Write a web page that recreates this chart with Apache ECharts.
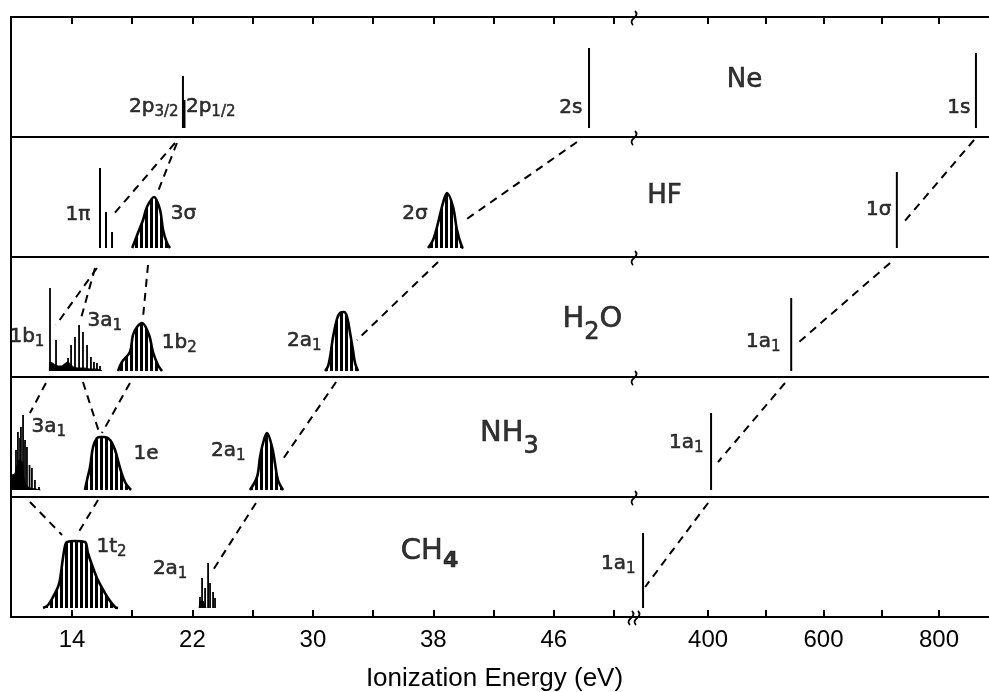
<!DOCTYPE html>
<html><head><meta charset="utf-8">
<script src="https://cdn.jsdelivr.net/npm/echarts@6/dist/echarts.min.js"></script>
<style>html,body{margin:0;padding:0;background:#fff}#c{width:989px;height:692px}</style>
</head><body><div id="c"></div>
<script>
// ---------------- DATA ----------------
const molecules = ['Ne', 'HF', 'H2O', 'NH3', 'CH4'];
const valenceTicks = [14, 18, 22, 26, 30, 34, 38, 42, 46, 50];
const valenceTickLabels = [14, 22, 30, 38, 46];
const coreTicks = [400, 500, 600, 700, 800];
const coreTickLabels = [400, 600, 800];
const axisTitle = 'Ionization Energy (eV)';

// sharp lines [eV, relative intensity]
const neValenceLines = [[21.37, 52], [21.47, 28], [48.34, 80]];
const neCoreLines = [[864, 75]];
const hfValenceLines = [[15.86, 80], [16.26, 36], [16.66, 16]];
const hfCoreLines = [[727, 76]];
const h2oValenceLines = [[12.54, 83], [12.94, 31], [13.74, 13], [13.94, 26], [14.2, 34], [14.47, 46], [14.73, 39], [15.0, 26], [15.26, 14], [15.46, 9], [15.66, 8], [15.86, 5]];
const h2oCoreLines = [[544, 73]];
const nh3ValenceLines = [[10.28, 40], [10.41, 58], [10.55, 52], [10.61, 63], [10.75, 75], [10.88, 50], [11.01, 43], [11.18, 25], [11.34, 22], [11.54, 10], [11.81, 3]];
const nh3CoreLines = [[405.2, 77]];
const ch4ValenceLines = [[22.5, 11], [22.64, 30], [22.84, 20], [23.04, 45], [23.17, 25], [23.37, 16], [23.5, 10]];
const ch4CoreLines = [[287.4, 75]];

// broad bands [eV, relative intensity]
const hf3sigmaBand = [[18.0, 0], [18.38, 15], [18.72, 28], [18.98, 41], [19.45, 51], [19.85, 38], [20.05, 18], [20.31, 5], [20.51, 0]];
const hf2sigmaBand = [[37.65, 0], [37.98, 8], [38.31, 25], [38.64, 45], [38.91, 55], [39.31, 41], [39.57, 18], [39.9, 1], [40.0, 0]];
const h2o1b1Continuum = [[12.5, 0], [12.52, 9], [12.7, 8], [12.9, 6], [13.1, 5], [13.3, 5], [13.5, 7], [13.7, 9], [13.9, 7], [14.1, 4], [14.4, 3], [14.8, 3], [15.2, 2], [15.6, 2], [15.9, 1], [16.0, 0]];
const h2o1b2Band = [[17.06, 0], [17.32, 9], [17.85, 19], [18.05, 36], [18.32, 44], [18.65, 48], [19.12, 36], [19.38, 19], [19.71, 6], [19.98, 0]];
const h2o2a1Band = [[30.81, 0], [31.01, 5], [31.14, 14], [31.34, 34], [31.6, 52], [31.8, 58], [32.07, 59], [32.27, 54], [32.47, 38], [32.67, 20], [32.8, 8], [33.0, 0]];
const nh3Continuum = [[9.96, 15], [10.2, 16], [10.3, 22], [10.5, 30], [10.7, 28], [10.8, 12], [10.95, 5], [11.2, 2], [11.6, 1], [11.9, 0]];
const nh31eBand = [[14.86, 0], [15.0, 10], [15.2, 23], [15.4, 43], [15.66, 52], [15.86, 53], [16.13, 53], [16.53, 50], [16.86, 40], [17.19, 22], [17.52, 8], [17.92, 0]];
const nh32a1Band = [[25.82, 0], [26.29, 13], [26.49, 33], [26.69, 47], [26.95, 57], [27.29, 43], [27.48, 27], [27.68, 10], [28.02, 0]];
const ch41t2Band = [[12.08, 0], [12.41, 3], [12.74, 11], [13.07, 21], [13.2, 28], [13.4, 50], [13.55, 63], [13.67, 66], [14.2, 67], [14.86, 66], [15.06, 55], [15.33, 43], [15.66, 30], [16.0, 20], [16.39, 10], [16.86, 1], [17.06, 0]];
const ch42a1Continuum = [[22.45, 0], [22.5, 6], [22.7, 7], [22.8, 4], [22.9, 0]];

// correlation (dashed) lines drawn inside the lower panel: [[eV top, level], [eV end, level]]
const hfValenceLinks = [[[20.84, 105], [16.72, 33]], [[20.97, 105], [19.62, 53]], [[47.54, 106], [39.94, 26]]];
const hfCoreLinks = [[[860.6, 108], [737.7, 25]]];
const h2oValenceLinks = [[[15.66, 103], [12.94, 46]], [[15.53, 103], [14.53, 49]], [[19.05, 106], [18.72, 54]], [[38.31, 109], [32.93, 31]]];
const h2oCoreLinks = [[[715.2, 108], [557.6, 29]]];
const nh3ValenceLinks = [[[12.27, 107], [11.21, 77]], [[14.73, 108], [15.86, 55]], [[17.85, 107], [15.99, 57]], [[31.54, 108], [27.88, 28]]];
const nh3CoreLinks = [[[533.3, 107], [417.3, 28]]];
const ch4ValenceLinks = [[[11.21, 106], [13.34, 73]], [[15.73, 108], [14.33, 73]], [[26.22, 105], [23.37, 38]]];
const ch4CoreLinks = [[[400, 105], [291, 21]]];

// orbital labels: [panel, scale ('val'|'core'), eV, level, text, side of anchor]
const orbitalLabels = [
  [0, 'val', 21.11, 21, '2p{s|3/2}', 'R'], [0, 'val', 21.6, 21, '2p{s|1/2}', 'L'],
  [0, 'val', 47.94, 20, '2s', 'R'], [0, 'core', 855.4, 20, '1s', 'R'],
  [1, 'val', 15.25, 33, '1π', 'R'], [1, 'val', 20.6, 34, '3σ', 'L'],
  [1, 'val', 37.65, 34, '2σ', 'R'], [1, 'core', 718.6, 38, '1σ', 'R'],
  [2, 'val', 12.2, 34, '1b{s|1}', 'R'], [2, 'val', 15.06, 50, '3a{s|1}', 'L'],
  [2, 'val', 20.0, 28, '1b{s|2}', 'L'], [2, 'val', 30.6, 30, '2a{s|1}', 'R'],
  [2, 'core', 526.4, 29, '1a{s|1}', 'R'],
  [3, 'val', 11.34, 63, '3a{s|1}', 'L'], [3, 'val', 18.12, 36, '1e', 'L'],
  [3, 'val', 25.56, 39, '2a{s|1}', 'R'], [3, 'core', 393, 47, '1a{s|1}', 'R'],
  [4, 'val', 15.66, 61, '1t{s|2}', 'L'], [4, 'val', 21.7, 39, '2a{s|1}', 'R'],
  [4, 'core', 275.3, 44, '1a{s|1}', 'R']
];
// molecule names: [panel, scale, eV, level, text]
const moleculeLabels = [
  [0, 'core', 464, 47, 'Ne'], [1, 'core', 325.5, 51, 'HF'],
  [2, 'val', 48.6, 51, 'H{m|2}O'], [3, 'val', 43.09, 56, 'NH{m|3}'], [4, 'val', 37.78, 56, 'CH{b|4}']
];

// ---------------- BUILD ----------------
const valLines = [neValenceLines, hfValenceLines, h2oValenceLines, nh3ValenceLines, ch4ValenceLines];
const coreLines = [neCoreLines, hfCoreLines, h2oCoreLines, nh3CoreLines, ch4CoreLines];
const bands = [[], [hf3sigmaBand, hf2sigmaBand], [h2o1b2Band, h2o2a1Band], [nh31eBand, nh32a1Band], [ch41t2Band]];
const fills = [[], [], [h2o1b1Continuum], [nh3Continuum], [ch42a1Continuum]];
const valLinks = [[], hfValenceLinks, h2oValenceLinks, nh3ValenceLinks, ch4ValenceLinks];
const coreLinks = [[], hfCoreLinks, h2oCoreLinks, nh3CoreLinks, ch4CoreLinks];

const pc = document.createElement('canvas');
pc.width = 5; pc.height = 4;
const pctx = pc.getContext('2d');
pctx.fillStyle = '#fff'; pctx.fillRect(0, 0, 5, 4);
pctx.fillStyle = '#000'; pctx.fillRect(0, 0, 3, 4);
const hatch = { image: pc, repeat: 'repeat' };

const baseOff = [9, 9, 6, 7, 9];
const VAL = [9.95, 51.26], CORE = [270, 886.6];
const grids = [], xAxes = [], yAxes = [], series = [];
const FONT = 'DejaVu Sans';

for (let i = 0; i < 5; i++) {
  for (let s = 0; s < 2; s++) {
    const g = i * 2 + s;
    const bottom = i === 4;
    grids.push({ left: s ? 633 : 11, top: 17 + 120 * i, width: s ? 356 : 622, height: 120 });
    xAxes.push({
      type: 'value', gridIndex: g, position: 'bottom', min: s ? CORE[0] : VAL[0], max: s ? CORE[1] : VAL[1],
      axisLine: { show: true, onZero: false, lineStyle: { color: '#000', width: 2 } },
      axisTick: { show: bottom, inside: true, length: 7, lineStyle: { color: '#000', width: 2 }, customValues: s ? coreTicks : valenceTicks },
      axisLabel: { show: bottom, customValues: s ? coreTickLabels : valenceTickLabels, color: '#000', fontSize: 24, fontFamily: 'Liberation Sans', margin: 11 },
      splitLine: { show: false }
    });
    yAxes.push({
      type: 'value', gridIndex: g, min: -baseOff[i], max: 120 - baseOff[i], show: s === 0,
      axisLine: { show: true, onZero: false, lineStyle: { color: '#000', width: 2 } },
      axisTick: { show: false }, axisLabel: { show: false }, splitLine: { show: false }
    });
  }
}
for (let s = 0; s < 2; s++) {
  xAxes.push({
    type: 'value', gridIndex: s, position: 'top', min: s ? CORE[0] : VAL[0], max: s ? CORE[1] : VAL[1],
    axisLine: { show: true, onZero: false, lineStyle: { color: '#000', width: 2 } },
    axisTick: { show: true, inside: true, length: 7, lineStyle: { color: '#000', width: 2 }, customValues: s ? coreTicks : valenceTicks },
    axisLabel: { show: false }, splitLine: { show: false }
  });
}

function stickSeries(g, data, w) {
  return {
    type: 'custom', xAxisIndex: g, yAxisIndex: g, data: data, silent: true, clip: false,
    renderItem: function (p, api) {
      const a = api.coord([api.value(0), 0]);
      const b = api.coord([api.value(0), api.value(1)]);
      return { type: 'line', shape: { x1: a[0], y1: a[1], x2: b[0], y2: b[1] }, style: { stroke: '#000', lineWidth: w } };
    }
  };
}

for (let i = 0; i < 5; i++) {
  const gv = i * 2, gc = i * 2 + 1;
  fills[i].forEach(d => series.push({
    type: 'line', xAxisIndex: gv, yAxisIndex: gv, data: d, symbol: 'none', silent: true, smooth: 0.2,
    lineStyle: { color: '#000', width: 1 }, areaStyle: { color: '#000', opacity: 1 }
  }));
  bands[i].forEach(d => series.push({
    type: 'line', xAxisIndex: gv, yAxisIndex: gv, data: d, symbol: 'none', silent: true, smooth: 0.35,
    lineStyle: { color: '#000', width: 2.6 }, areaStyle: { color: hatch, opacity: 1 }
  }));
  series.push(stickSeries(gv, valLines[i], i >= 2 ? 1.8 : 2));
  series.push(stickSeries(gc, coreLines[i], 2));
  valLinks[i].forEach(d => series.push({
    type: 'line', xAxisIndex: gv, yAxisIndex: gv, data: d, symbol: 'none', silent: true,
    lineStyle: { color: '#000', width: 2, type: [8, 6] }
  }));
  coreLinks[i].forEach(d => series.push({
    type: 'line', xAxisIndex: gc, yAxisIndex: gc, data: d, symbol: 'none', silent: true,
    lineStyle: { color: '#000', width: 2, type: [8, 6] }
  }));
}

const richSmall = {
  s: { fontSize: 15, fontFamily: FONT, color: '#000', padding: [12, 0, 0, 0], textBorderColor: '#000', textBorderWidth: 0.5 }
};
orbitalLabels.forEach(l => {
  const g = l[0] * 2 + (l[1] === 'core' ? 1 : 0);
  series.push({
    type: 'scatter', xAxisIndex: g, yAxisIndex: g, symbolSize: 1, silent: true,
    itemStyle: { color: 'rgba(0,0,0,0)' },
    data: [{ value: [l[2], l[3]] }],
    label: {
      show: true, position: [0, 0], formatter: l[4], align: l[5] === 'R' ? 'right' : (l[5] === 'L' ? 'left' : 'center'),
      verticalAlign: 'middle', fontSize: 20, fontFamily: FONT, color: '#000', textBorderColor: '#000', textBorderWidth: 0.6, rich: richSmall
    }
  });
});
moleculeLabels.forEach(l => {
  const g = l[0] * 2 + (l[1] === 'core' ? 1 : 0);
  series.push({
    type: 'scatter', xAxisIndex: g, yAxisIndex: g, symbolSize: 1, silent: true,
    itemStyle: { color: 'rgba(0,0,0,0)' },
    data: [{ value: [l[2], l[3]] }],
    label: {
      show: true, position: [0, 0], formatter: l[4], align: 'center', verticalAlign: 'middle',
      fontSize: l[0] < 2 ? 26 : 29, fontFamily: FONT, color: '#000', textBorderColor: '#000', textBorderWidth: 0.6,
      rich: {
        m: { fontSize: 24, fontFamily: FONT, color: '#000', padding: [26, 0, 0, 0], textBorderColor: '#000', textBorderWidth: 0.6 },
        b: { fontSize: 22, fontFamily: FONT, fontWeight: 'bold', color: '#000', padding: [20, 0, 0, 0] }
      }
    }
  });
});

// axis-break marks on every horizontal line
for (let i = 0; i < 5; i++) {
  const g = i * 2 + 1;
  series.push({
    type: 'custom', xAxisIndex: g, yAxisIndex: g, data: [[CORE[0], 0]], silent: true, clip: false, z: 10,
    renderItem: function (p, api) {
      const cs = p.coordSys;
      const x0 = cs.x + 1;
      const sq = (cx, cy) => ({ type: 'bezierCurve', shape: { x1: cx + 1, y1: cy - 7, x2: cx - 1, y2: cy + 7, cpx1: cx + 7, cpy1: cy - 1, cpx2: cx - 7, cpy2: cy + 1 }, style: { stroke: '#000', fill: null, lineWidth: 1.8 } });
      const ch = [];
      const yb = cs.y + cs.height;
      if (i === 4) { ch.push(sq(x0 - 3, yb + 1)); ch.push(sq(x0 + 3, yb + 1)); }
      else ch.push(sq(x0, yb + 1));
      if (i === 0) ch.push(sq(x0, cs.y + 1));
      return { type: 'group', children: ch };
    }
  });
}

const chart = echarts.init(document.getElementById('c'));
chart.setOption({
  animation: false,
  backgroundColor: '#fff',
  title: { text: axisTitle, left: 'center', top: 661, textStyle: { fontSize: 26, fontWeight: 'normal', color: '#000', fontFamily: 'Liberation Sans' } },
  grid: grids, xAxis: xAxes, yAxis: yAxes, series: series
});
</script>
</body></html>
